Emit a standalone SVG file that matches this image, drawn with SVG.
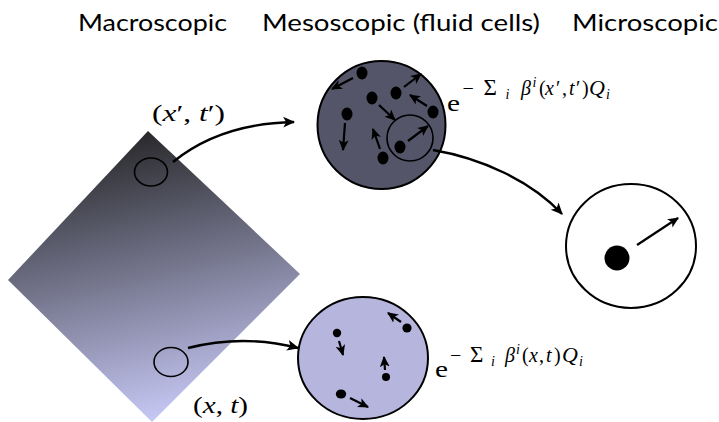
<svg xmlns="http://www.w3.org/2000/svg" width="719" height="422" viewBox="0 0 719 422">
<defs>
  <linearGradient id="diag" gradientUnits="userSpaceOnUse" x1="120" y1="132" x2="185" y2="422">
    <stop offset="0" stop-color="#262628"/>
    <stop offset="1" stop-color="#cbcdfb"/>
  </linearGradient>
  <marker id="ah" viewBox="0 0 10 10" refX="9" refY="5" markerWidth="5" markerHeight="5" orient="auto" markerUnits="strokeWidth">
    <path d="M0,0.5 L10,5 L0,9.5 L2.5,5 z" fill="#000"/>
  </marker>
</defs>
<style>
  .hdr { font-family: Lato, "Open Sans", sans-serif; font-size: 24px; fill: #000; }
  .m { font-family: "Liberation Serif", serif; font-size: 20px; fill: #000; }
  .big { font-size: 23px; }
  .it { font-style: italic; }
  .s { font-size: 14px; }
  .ring { fill: none; stroke: #000; stroke-width: 1.6; }
  .cell { stroke: #000; stroke-width: 2; }
  .dot { fill: #000; }
  .parr { fill: none; stroke: #000; stroke-width: 2.2; marker-end: url(#ah); }
  .conn { fill: none; stroke: #000; stroke-width: 2.4; marker-end: url(#ah); }
</style>

<g id="headers">
  <text class="hdr" x="78" y="31" textLength="149" lengthAdjust="spacingAndGlyphs">Macroscopic</text>
  <text class="hdr" x="262" y="31" textLength="278" lengthAdjust="spacingAndGlyphs">Mesoscopic (fluid cells)</text>
  <text class="hdr" x="572" y="31" textLength="146" lengthAdjust="spacingAndGlyphs">Microscopic</text>
</g>

<g id="macro">
  <polygon points="148,131 300,274 152,422 8,280" fill="url(#diag)"/>
  <ellipse class="ring" cx="151" cy="172" rx="16.5" ry="14"/>
  <ellipse class="ring" cx="171" cy="362" rx="17" ry="14.5"/>
  <text class="m big" x="152" y="121" textLength="73" lengthAdjust="spacingAndGlyphs">(<tspan class="it">x</tspan>′, <tspan class="it">t</tspan>′)</text>
  <text class="m big" x="193" y="413" textLength="55" lengthAdjust="spacingAndGlyphs">(<tspan class="it">x</tspan>, <tspan class="it">t</tspan>)</text>
</g>

<g id="meso-top">
  <circle class="cell" cx="381.5" cy="125" r="64" fill="#545568"/>
  <circle class="ring" cx="410" cy="138" r="23"/>
  <ellipse class="dot" cx="362" cy="73" rx="5.5" ry="6.5"/>
  <ellipse class="dot" cx="396" cy="93" rx="5.5" ry="6.5"/>
  <ellipse class="dot" cx="372" cy="98" rx="5.5" ry="6.5"/>
  <ellipse class="dot" cx="433" cy="112" rx="5.5" ry="6.5"/>
  <ellipse class="dot" cx="347" cy="114" rx="5.5" ry="6.5"/>
  <ellipse class="dot" cx="383" cy="158" rx="5.5" ry="6.5"/>
  <ellipse class="dot" cx="400" cy="147" rx="5.5" ry="6.5"/>
  <path class="parr" d="M353,78 L332,89"/>
  <path class="parr" d="M404,87 L421,74"/>
  <path class="parr" d="M379,105 L395,120"/>
  <path class="parr" d="M427,106 L410,95"/>
  <path class="parr" d="M345,123 L343,150"/>
  <path class="parr" d="M380,149 L373,129"/>
  <path class="parr" d="M408,141 L428,126"/>
  <text class="m big" x="447" y="110.5" textLength="13" lengthAdjust="spacingAndGlyphs">e</text>
  <text class="m"><tspan x="462.5" y="94.5">−</tspan><tspan x="483.5" y="95" font-size="23">Σ</tspan><tspan class="it s" x="505.5" y="98.5">i</tspan><tspan class="it" x="521" y="94.5">β</tspan><tspan class="it s" x="532.5" y="87">i</tspan><tspan x="539" y="94.5">(</tspan><tspan class="it" x="545" y="94.5">x</tspan><tspan x="556" y="94.5">′</tspan><tspan x="562" y="94.5">,</tspan><tspan class="it" x="569" y="94.5">t</tspan><tspan x="576" y="94.5">′</tspan><tspan x="582" y="94.5">)</tspan><tspan class="it" x="589" y="94.5" font-size="22">Q</tspan><tspan class="it s" x="606" y="99">i</tspan></text>
</g>

<g id="meso-bottom">
  <ellipse class="cell" cx="363" cy="358" rx="65" ry="61" fill="#b5b5de"/>
  <circle class="dot" cx="337" cy="333" r="4.2"/>
  <circle class="dot" cx="407" cy="328" r="4.6"/>
  <circle class="dot" cx="386" cy="377" r="4"/>
  <ellipse class="dot" cx="341" cy="394" rx="5.2" ry="4.6"/>
  <path class="parr" d="M339,341 L343,355"/>
  <path class="parr" d="M401,322 L388,313"/>
  <path class="parr" d="M385,370 L384,357"/>
  <path class="parr" d="M350,398 L368,407"/>
  <text class="m big" x="435" y="376.5" textLength="13" lengthAdjust="spacingAndGlyphs">e</text>
  <text class="m"><tspan x="450" y="361.5">−</tspan><tspan x="470" y="362" font-size="23">Σ</tspan><tspan class="it s" x="491" y="365.5">i</tspan><tspan class="it" x="505" y="361.5">β</tspan><tspan class="it s" x="516" y="354">i</tspan><tspan x="522" y="361.5">(</tspan><tspan class="it" x="529" y="361.5">x</tspan><tspan x="539" y="361.5">,</tspan><tspan class="it" x="546" y="361.5">t</tspan><tspan x="554" y="361.5">)</tspan><tspan class="it" x="562" y="361.5" font-size="22">Q</tspan><tspan class="it s" x="579" y="366">i</tspan></text>
</g>

<g id="micro">
  <ellipse class="cell" cx="631" cy="246" rx="65" ry="62" fill="#fff" stroke-width="1.6"/>
  <circle class="dot" cx="617" cy="258" r="12.5"/>
  <path class="parr" d="M637,245 L678,218"/>
</g>

<g id="connectors">
  <path class="conn" d="M173,162 C205,136 245,123 294,122"/>
  <path class="conn" d="M188,348 Q243,334 298,348"/>
  <path class="conn" d="M433,150 C480,158 530,180 562,214"/>
</g>
</svg>
